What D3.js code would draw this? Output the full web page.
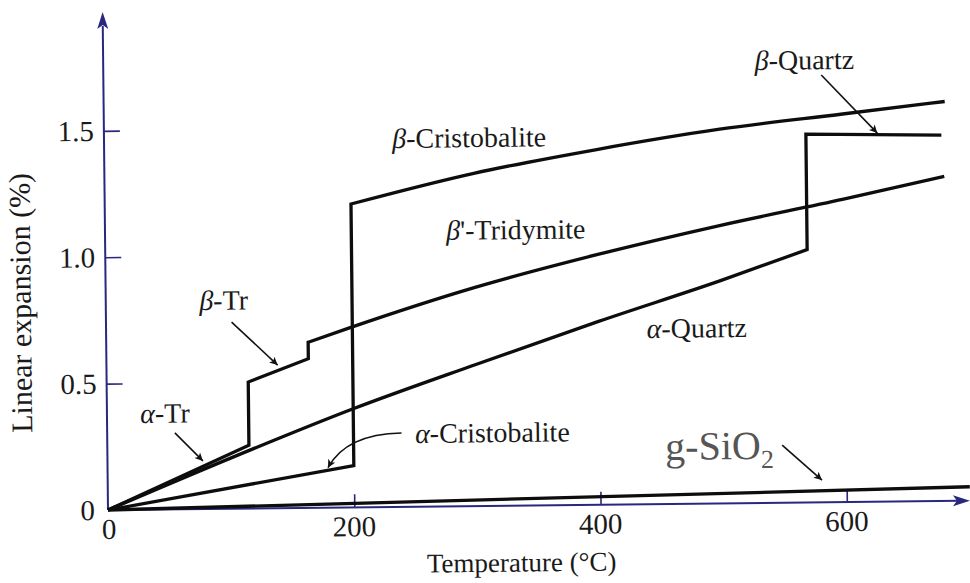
<!DOCTYPE html>
<html>
<head>
<meta charset="utf-8">
<script src="https://cdn.jsdelivr.net/npm/d3@7"></script>
<style>
  html, body { margin: 0; padding: 0; background: #fff; }
  svg { display: block; }
  text { font-family: "Liberation Serif", "Times New Roman", serif; fill: #1a1a1a; }
</style>
</head>
<body>
<svg id="chart" width="970" height="583"></svg>
<script>
// Thermal expansion of the silica polymorphs, % vs °C
const xTicks = [0, 200, 400, 600];
const yTicks = [0, 0.5, 1.0, 1.5];
const yTickLabels = ["0", "0.5", "1.0", "1.5"];

// each polymorph family: list of phase pieces, joined by vertical jumps
const alphaTridymite = [[0, 0], [115, 0.25]];
const betaTridymite = [[115, 0.50], [164, 0.59]];
const betaPrimeTridymite = [[164, 0.655], [200, 0.714], [300, 0.865], [400, 0.99], [500, 1.10], [600, 1.198], [682, 1.284]];

const alphaCristobalite = [[0, 0], [200, 0.165]];
const betaCristobalite = [[200, 1.20], [300, 1.316], [400, 1.405], [500, 1.48], [600, 1.535], [683, 1.58]];

const alphaQuartz = [[0, 0], [100, 0.2], [200, 0.39], [300, 0.56], [400, 0.725], [500, 0.882], [570, 1.0]];
const betaQuartz = [[570, 1.457], [680, 1.447]];

const silicaGlass = [[0, 0], [700, 0.055]];

const families = [
  [alphaTridymite, betaTridymite, betaPrimeTridymite],
  [alphaCristobalite, betaCristobalite],
  [alphaQuartz, betaQuartz],
  [silicaGlass]
];

// curve labels: greek prefix, rest, position in data units
const labelGreek = ["β", "β", "β", "α", "α", "α", "β", ""];
const labelRest = ["-Cristobalite", "'-Tridymite", "-Tr", "-Tr", "-Cristobalite", "-Quartz", "-Quartz", "g-SiO"];
const labelX = [234, 277, 76, 27, 250, 439, 529, 453];
const labelY = [1.42, 1.054, 0.787, 0.343, 0.252, 0.657, 1.713, 0.174];

// straight pointer arrows: from (x1,y1) to (x2,y2)
const arrowFrom = [[55, 0.302], [102, 0.738], [583, 1.69], [548, 0.228]];
const arrowTo = [[77.5, 0.19], [139, 0.566], [628, 1.458], [580, 0.088]];
// curved pointer for α-Cristobalite: start, control, tip
const curvedArrow = [[239, 0.292], [194, 0.29], [179, 0.158]];

const svg = d3.select("#chart");
const ox = 108, oy = 510;
const x = d3.scaleLinear().domain([0, 700]).range([ox, ox + 862]);
const y = d3.scaleLinear().domain([0, 1.97]).range([oy, oy - 498]);

const navy = "#28287e";

const defs = svg.append("defs");
defs.append("marker")
  .attr("id", "tip").attr("viewBox", "0 0 10 10")
  .attr("refX", 10).attr("refY", 5)
  .attr("markerWidth", 12).attr("markerHeight", 8)
  .attr("markerUnits", "userSpaceOnUse")
  .attr("orient", "auto")
  .append("path").attr("d", "M0,0 L10,5 L0,10 L2.5,5 Z").attr("fill", "#111");

// whole figure sits slightly tilted
const g = svg.append("g").attr("transform", `rotate(-0.62, ${ox}, ${oy})`);

// axes
const xAxis = d3.axisBottom(x).tickValues(xTicks.slice(1)).tickSize(-13).tickFormat("");
g.append("g").attr("transform", `translate(0,${oy})`).call(xAxis)
  .call(s => s.select(".domain").remove())
  .call(s => s.selectAll("line").attr("stroke", navy).attr("stroke-width", 1.6));
const yAxis = d3.axisLeft(y).tickValues(yTicks.slice(1)).tickSize(-16).tickFormat("");
g.append("g").attr("transform", `translate(${ox},0)`).call(yAxis)
  .call(s => s.select(".domain").remove())
  .call(s => s.selectAll("line").attr("stroke", navy).attr("stroke-width", 1.6));

g.append("line").attr("x1", x(0)).attr("y1", y(0)).attr("x2", x(700) - 10).attr("y2", y(0))
  .attr("stroke", navy).attr("stroke-width", 2);
g.append("line").attr("x1", x(0)).attr("y1", y(0)).attr("x2", x(0)).attr("y2", y(1.97) + 14)
  .attr("stroke", navy).attr("stroke-width", 2);
g.append("path")
  .attr("d", `M${x(700)},${y(0)} L${x(700) - 17},${y(0) - 5.5} L${x(700) - 13},${y(0)} L${x(700) - 17},${y(0) + 5.5} Z`)
  .attr("fill", navy);
g.append("path")
  .attr("d", `M${x(0)},${y(1.97)} L${x(0) - 5.5},${y(1.97) + 17} L${x(0)},${y(1.97) + 13} L${x(0) + 5.5},${y(1.97) + 17} Z`)
  .attr("fill", navy);

// tick labels
g.selectAll(".xl").data(xTicks).join("text")
  .attr("x", d => d === 0 ? x(d) + 1 : x(d)).attr("y", oy + 29)
  .attr("text-anchor", "middle").attr("font-size", 29).text(d => d);
g.selectAll(".yl").data(yTicks).join("text")
  .attr("x", d => d === 0 ? ox - 13 : ox - 10).attr("y", d => y(d) + 10)
  .attr("text-anchor", "end").attr("font-size", 29).text((d, i) => yTickLabels[i]);

// axis titles
g.append("text").attr("x", 521).attr("y", 576).attr("text-anchor", "middle")
  .attr("font-size", 27).text("Temperature (°C)");
g.append("text").attr("transform", "translate(33,302) rotate(-90)").attr("text-anchor", "middle")
  .attr("font-size", 30).text("Linear expansion (%)");

// curves
const seg = d3.line().x(d => x(d[0])).y(d => y(d[1])).curve(d3.curveMonotoneX);
function familyPath(pieces) {
  return pieces.map((p, i) => {
    const s = p.length > 2 ? seg(p) : d3.line().x(d => x(d[0])).y(d => y(d[1]))(p);
    return i === 0 ? s : s.replace(/^M/, "L");
  }).join("");
}
g.selectAll(".curve").data(families).join("path")
  .attr("d", familyPath)
  .attr("fill", "none").attr("stroke", "#0d0d0d").attr("stroke-width", 3.3)
  .attr("stroke-linejoin", "miter");

// labels
labelRest.forEach((rest, i) => {
  const t = g.append("text").attr("x", x(labelX[i])).attr("y", y(labelY[i]))
    .attr("font-size", i === 7 ? 40 : 28);
  if (labelGreek[i]) t.append("tspan").attr("font-style", "italic").text(labelGreek[i]);
  t.append("tspan").text(rest);
  if (i === 7) {
    t.style("fill", "#555");
    t.append("tspan").attr("font-size", 26).attr("dy", 9).style("fill", "#555").text("2");
  }
});

// pointers
arrowFrom.forEach((a, i) => {
  g.append("line")
    .attr("x1", x(a[0])).attr("y1", y(a[1]))
    .attr("x2", x(arrowTo[i][0])).attr("y2", y(arrowTo[i][1]))
    .attr("stroke", "#111").attr("stroke-width", 1.6)
    .attr("marker-end", "url(#tip)");
});
const [c0, c1, c2] = curvedArrow;
g.append("path")
  .attr("d", `M${x(c0[0])},${y(c0[1])} Q${x(c1[0])},${y(c1[1])} ${x(c2[0])},${y(c2[1])}`)
  .attr("fill", "none").attr("stroke", "#111").attr("stroke-width", 1.6)
  .attr("marker-end", "url(#tip)");
</script>
</body>
</html>
